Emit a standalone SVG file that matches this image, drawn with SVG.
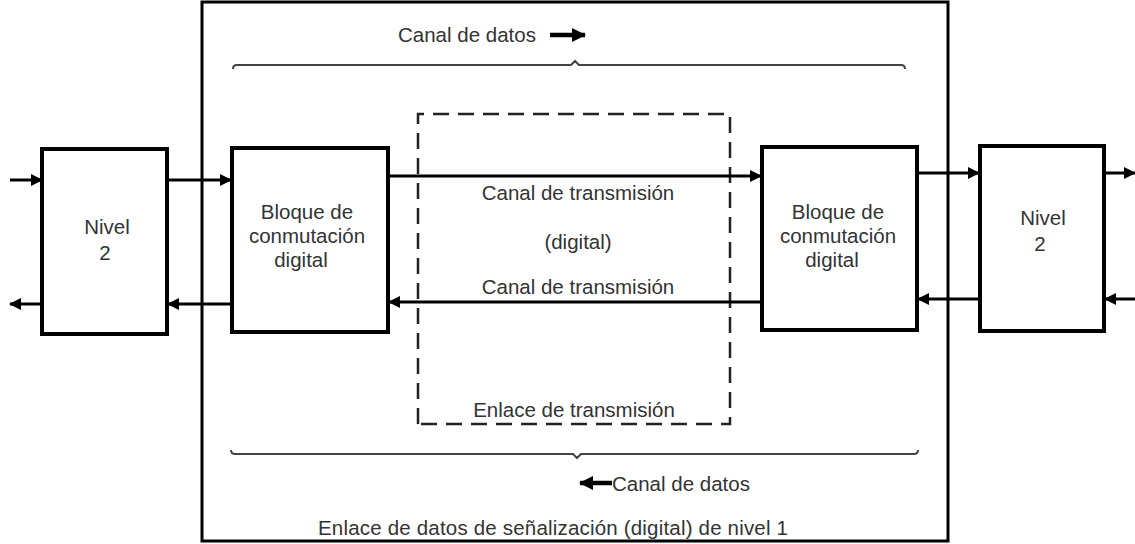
<svg xmlns="http://www.w3.org/2000/svg" width="1135" height="544" viewBox="0 0 1135 544">
<style>
.box{fill:#fff;stroke:#000;stroke-width:4}
.frame{fill:none;stroke:#000;stroke-width:3}
.t{font-family:"Liberation Sans",Arial,sans-serif;font-size:20.5px;fill:#333}
.c{text-anchor:middle}
.ln{stroke:#000;stroke-width:3;fill:none}
.bold{stroke:#000;stroke-width:4.5;fill:none}
.brace{stroke:#444;stroke-width:2;fill:none}
.dash{stroke:#222;stroke-width:2.5;fill:none;stroke-dasharray:16 9}
</style>
<defs>
<marker id="ah" markerUnits="userSpaceOnUse" markerWidth="12" markerHeight="12" refX="11" refY="6" orient="auto">
<path d="M0,0 L12,6 L0,12 z" fill="#000"/>
</marker>
<marker id="ahb" markerUnits="userSpaceOnUse" markerWidth="14" markerHeight="14" refX="13" refY="7" orient="auto">
<path d="M0,0 L14,7 L0,14 z" fill="#000"/>
</marker>
</defs>
<g id="frame">
<rect class="frame" x="202" y="2" width="746" height="539"/>
<text class="t" x="318" y="535" textLength="470">Enlace de datos de señalización (digital) de nivel 1</text>
</g>
<g id="link">
<path class="dash" d="M418,424 L418,114 L730,114 L730,424 Z"/>
<text class="t c" x="574" y="417">Enlace de transmisión</text>
</g>
<g id="nivel-left">
<rect class="box" x="42" y="149" width="125" height="185"/>
<text class="t c" x="107" y="234">Nivel</text>
<text class="t c" x="105" y="260">2</text>
</g>
<g id="bloque-left">
<rect class="box" x="232" y="148" width="156" height="184"/>
<text class="t c" x="307" y="219">Bloque de</text>
<text class="t c" x="307" y="243">conmutación</text>
<text class="t c" x="301" y="267">digital</text>
</g>
<g id="bloque-right">
<rect class="box" x="762" y="147" width="155" height="183"/>
<text class="t c" x="838" y="219">Bloque de</text>
<text class="t c" x="838" y="243">conmutación</text>
<text class="t c" x="832" y="267">digital</text>
</g>
<g id="nivel-right">
<rect class="box" x="980" y="146" width="124" height="185"/>
<text class="t c" x="1043" y="225">Nivel</text>
<text class="t c" x="1040" y="251">2</text>
</g>
<g id="connectors">
<line class="ln" x1="10" y1="180" x2="42" y2="180" marker-end="url(#ah)"/>
<line class="ln" x1="167" y1="180" x2="231" y2="180" marker-end="url(#ah)"/>
<line class="ln" x1="42" y1="304" x2="10" y2="304" marker-end="url(#ah)"/>
<line class="ln" x1="232" y1="304" x2="168" y2="304" marker-end="url(#ah)"/>
<line class="ln" x1="388" y1="176" x2="761" y2="176" marker-end="url(#ah)"/>
<line class="ln" x1="762" y1="302" x2="389" y2="302" marker-end="url(#ah)"/>
<line class="ln" x1="917" y1="173" x2="979" y2="173" marker-end="url(#ah)"/>
<line class="ln" x1="1104" y1="173" x2="1135" y2="173" marker-end="url(#ah)"/>
<line class="ln" x1="1135" y1="299" x2="1105" y2="299" marker-end="url(#ah)"/>
<line class="ln" x1="980" y1="299" x2="918" y2="299" marker-end="url(#ah)"/>
</g>
<g id="labels">
<text class="t c" x="578" y="200">Canal de transmisión</text>
<text class="t c" x="578" y="249">(digital)</text>
<text class="t c" x="578" y="294">Canal de transmisión</text>
<text class="t" x="398" y="42">Canal de datos</text>
<line class="bold" x1="550" y1="35" x2="585" y2="35" marker-end="url(#ahb)"/>
<line class="bold" x1="612" y1="483" x2="580" y2="483" marker-end="url(#ahb)"/>
<text class="t" x="612" y="491">Canal de datos</text>
<path class="brace" d="M233,69 Q233,65 237,65 L571,65 L575,61 L579,65 L901,65 Q905,65 905,69"/>
<path class="brace" d="M231,450 Q231,454 235,454 L573,454 L577,458 L581,454 L914,454 Q918,454 918,450"/>
</g>
</svg>
